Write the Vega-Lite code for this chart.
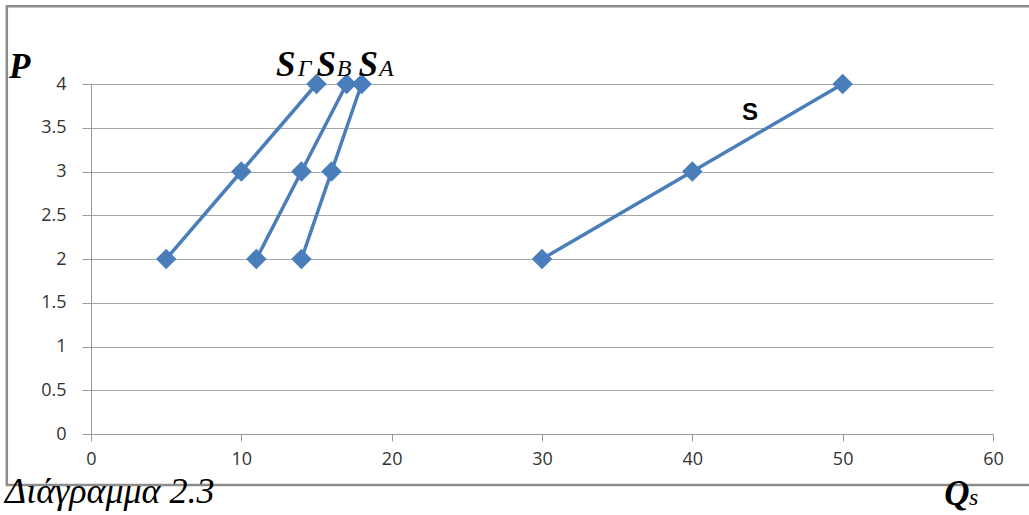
{
  "$schema": "https://vega.github.io/schema/vega-lite/v6.json",
  "width": 902,
  "height": 350,
  "autosize": {"type": "none"},
  "padding": {"left": 91, "top": 84, "right": 36, "bottom": 81},
  "background": "white",
  "config": {
    "view": {"stroke": null},
    "axis": {
      "domainColor": "#9a9a9a",
      "tickColor": "#9a9a9a",
      "gridColor": "#a6a6a6",
      "labelFont": "Open Sans",
      "labelFontSize": 18,
      "labelColor": "#333333",
      "labelFlush": false,
      "title": null
    }
  },
  "datasets": {
    "supply": [
      {"series": "SΓ", "Q": 5, "P": 2},
      {"series": "SΓ", "Q": 10, "P": 3},
      {"series": "SΓ", "Q": 15, "P": 4},
      {"series": "SB", "Q": 11, "P": 2},
      {"series": "SB", "Q": 14, "P": 3},
      {"series": "SB", "Q": 17, "P": 4},
      {"series": "SA", "Q": 14, "P": 2},
      {"series": "SA", "Q": 16, "P": 3},
      {"series": "SA", "Q": 18, "P": 4},
      {"series": "S", "Q": 30, "P": 2},
      {"series": "S", "Q": 40, "P": 3},
      {"series": "S", "Q": 50, "P": 4}
    ],
    "labels": [
      {"kind": "big", "text": "P", "Q": -5.45, "P": 4.07},
      {"kind": "big", "text": "S", "Q": 12.3, "P": 4.09},
      {"kind": "sub", "text": "Γ", "Q": 13.75, "P": 4.09},
      {"kind": "big", "text": "S", "Q": 15.0, "P": 4.09},
      {"kind": "sub", "text": "B", "Q": 16.35, "P": 4.09},
      {"kind": "big", "text": "S", "Q": 17.8, "P": 4.09},
      {"kind": "sub", "text": "A", "Q": 19.15, "P": 4.09},
      {"kind": "big", "text": "Q", "Q": 56.75, "P": -0.811},
      {"kind": "sub", "text": "s", "Q": 58.4, "P": -0.811},
      {"kind": "caption", "text": "Διάγραμμα 2.3", "Q": -5.72, "P": -0.789},
      {"kind": "name", "text": "S", "Q": 43.84, "P": 3.59}
    ],
    "frame": [
      {"x1": -5.6, "x2": 80, "y1": -0.583, "y2": 4.89}
    ]
  },
  "layer": [
    {
      "data": {"name": "frame"},
      "mark": {"type": "rect", "fill": null, "stroke": "#8c8c8c", "strokeWidth": 2.5, "clip": false},
      "encoding": {
        "x": {"field": "x1", "type": "quantitative", "scale": {"domain": [0, 60], "nice": false, "zero": false}},
        "x2": {"field": "x2"},
        "y": {"field": "y1", "type": "quantitative", "scale": {"domain": [0, 4], "nice": false, "zero": false}},
        "y2": {"field": "y2"}
      }
    },
    {
      "data": {"name": "supply"},
      "mark": {
        "type": "line",
        "color": "#4a7ebb",
        "strokeWidth": 3.5,
        "point": {"filled": true, "shape": "diamond", "size": 420, "color": "#4a7ebb", "opacity": 1}
      },
      "encoding": {
        "x": {
          "field": "Q", "type": "quantitative",
          "scale": {"domain": [0, 60], "nice": false, "zero": false},
          "axis": {"values": [0, 10, 20, 30, 40, 50, 60], "grid": false, "tickSize": 7, "labelPadding": 9, "format": "d"}
        },
        "y": {
          "field": "P", "type": "quantitative",
          "scale": {"domain": [0, 4], "nice": false, "zero": false},
          "axis": {"values": [0, 0.5, 1, 1.5, 2, 2.5, 3, 3.5, 4], "grid": true, "tickSize": 9, "labelPadding": 16, "format": "~g"}
        },
        "detail": {"field": "series", "type": "nominal"}
      }
    },
    {
      "data": {"name": "labels"},
      "transform": [{"filter": "datum.kind === 'big'"}],
      "mark": {"type": "text", "align": "left", "baseline": "alphabetic", "font": "Liberation Serif", "fontStyle": "italic", "fontWeight": "bold", "fontSize": 35, "color": "black", "clip": false},
      "encoding": {
        "x": {"field": "Q", "type": "quantitative"},
        "y": {"field": "P", "type": "quantitative"},
        "text": {"field": "text"}
      }
    },
    {
      "data": {"name": "labels"},
      "transform": [{"filter": "datum.kind === 'sub'"}],
      "mark": {"type": "text", "align": "left", "baseline": "alphabetic", "font": "Liberation Serif", "fontStyle": "italic", "fontWeight": "normal", "fontSize": 24, "color": "black", "clip": false},
      "encoding": {
        "x": {"field": "Q", "type": "quantitative"},
        "y": {"field": "P", "type": "quantitative"},
        "text": {"field": "text"}
      }
    },
    {
      "data": {"name": "labels"},
      "transform": [{"filter": "datum.kind === 'caption'"}],
      "mark": {"type": "text", "align": "left", "baseline": "alphabetic", "font": "Liberation Serif", "fontStyle": "italic", "fontSize": 36, "color": "black", "clip": false},
      "encoding": {
        "x": {"field": "Q", "type": "quantitative"},
        "y": {"field": "P", "type": "quantitative"},
        "text": {"field": "text"}
      }
    },
    {
      "data": {"name": "labels"},
      "transform": [{"filter": "datum.kind === 'name'"}],
      "mark": {"type": "text", "align": "center", "baseline": "alphabetic", "font": "Liberation Sans", "fontWeight": "bold", "fontSize": 24, "color": "black", "clip": false},
      "encoding": {
        "x": {"field": "Q", "type": "quantitative"},
        "y": {"field": "P", "type": "quantitative"},
        "text": {"field": "text"}
      }
    }
  ]
}
